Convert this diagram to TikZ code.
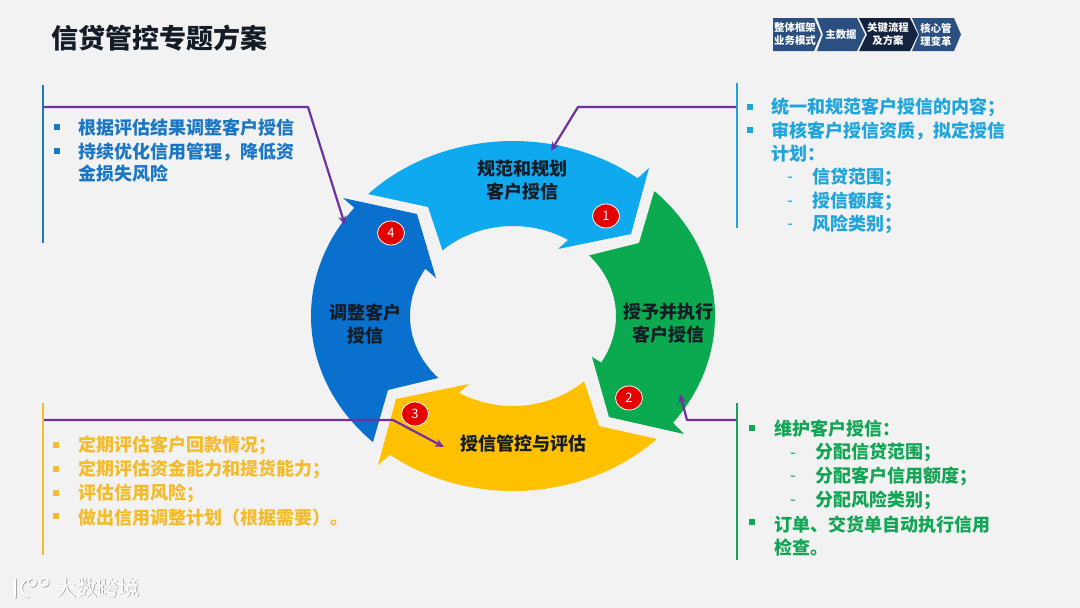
\documentclass[tikz,border=0pt]{standalone}
\usepackage{fontspec}
\setmainfont{Noto Sans CJK SC}
\usetikzlibrary{arrows.meta,shapes.geometric}
\definecolor{bgc}{HTML}{F2F2F2}
\definecolor{ringA}{HTML}{0EA9EE}
\definecolor{ringB}{HTML}{0BAA50}
\definecolor{ringC}{HTML}{FFC000}
\definecolor{ringD}{HTML}{0A70CE}
\definecolor{txtA}{HTML}{1FA4DC}
\definecolor{txtB}{HTML}{12A555}
\definecolor{txtC}{HTML}{F2BC2E}
\definecolor{txtD}{HTML}{1B76C4}
\definecolor{linkc}{HTML}{7030A0}
\definecolor{navA}{HTML}{2A4F80}
\definecolor{navB}{HTML}{14233F}
\definecolor{inkc}{HTML}{141C26}
\tikzset{
  declare function={ox(\t)=513+202*cos(\t);oy(\t)=316+175*sin(\t);ix(\t)=513+103*cos(\t);iy(\t)=316+90*sin(\t);},
  item/.style={anchor=west,inner sep=0pt,outer sep=0pt,align=left,yshift=-0.8pt,font=\fontsize{18}{22.5}\selectfont\bfseries},
  dashmark/.style={anchor=center,inner sep=0pt,yshift=-4pt,font=\fontsize{17}{18}\selectfont},
  bul/.style={rectangle,fill=#1,draw=none,minimum size=5.5pt,inner sep=0pt},
  vbar/.style={line width=2.8pt},
  link/.style={draw=linkc,line width=2.2pt,line join=round,-{Stealth[length=9pt,width=8pt]}},
  ringlabel/.style={inner sep=0pt,align=center,yshift=-0.8pt,text=inkc,font=\fontsize{18}{22.5}\selectfont\bfseries},
  badge/.style={ellipse,fill=red!90!black,draw=white,line width=0.8pt,minimum width=27pt,minimum height=24pt,inner sep=0pt,text=white,font=\fontsize{13}{13}\selectfont},
  navtext/.style={inner sep=0pt,align=center,text=white,font=\fontsize{10.4}{13}\selectfont\bfseries},
}
\begin{document}
\begin{tikzpicture}[x=1pt,y=-1pt]
\fill[bgc] (0,0) rectangle (1080,608);
\useasboundingbox (0,0) rectangle (1080,608);

% title
\node[anchor=west,inner sep=0pt,text=inkc,font=\fontsize{27}{30}\selectfont\bfseries] (title) at (51,38) {信贷管控专题方案};

% navigator chevrons
\fill[navA] (773,18) -- (814,18) -- (821,34.5) -- (814,51) -- (773,51) -- cycle;
\fill[navA] (817,18) -- (857,18) -- (865,34.5) -- (857,51) -- (817,51) -- (823,34.5) -- cycle;
\fill[navB] (859,18) -- (910,18) -- (918,34.5) -- (910,51) -- (859,51) -- (867,34.5) -- cycle;
\fill[navA] (912,18) -- (954,18) -- (961,34.5) -- (954,51) -- (912,51) -- (919,34.5) -- cycle;
\node[navtext] (nav1) at (795,34.5) {整体框架\\业务模式};
\node[navtext] (nav2) at (841,34.5) {主数据};
\node[navtext] (nav3) at (888,34.5) {关键流程\\及方案};
\node[navtext] (nav4) at (936,34.5) {核心管\\理变革};

% ring
\fill[ringA] (368,194) -- plot[samples=60,domain=-135.8:-51.9] ({ox(\x)},{oy(\x)}) -- (649,168) -- (631,234) -- (558,249) -- plot[samples=40,domain=-57.7:-133.2] ({ix(\x)},{iy(\x)}) -- (428,207) -- cycle;
\fill[ringB] (639,243) -- (654,192) -- plot[samples=60,domain=-45.4:37.6] ({ox(\x)},{oy(\x)}) -- (684,434) -- (609,417) -- (592,357) -- plot[samples=40,domain=31.1:-42.3] ({ix(\x)},{iy(\x)}) -- cycle;
\fill[ringC] (599,426) -- (657,439) -- plot[samples=60,domain=44.6:127.5] ({ox(\x)},{oy(\x)}) -- (378,465) -- (396,399) -- (469,384) -- plot[samples=40,domain=121.5:46.4] ({ix(\x)},{iy(\x)}) -- cycle;
\fill[ringD] (388,390) -- (373,442) -- plot[samples=60,domain=133.9:218.2] ({ox(\x)},{oy(\x)}) -- (343,198) -- (417,214) -- (436,278) -- plot[samples=40,domain=211.7:136.5] ({ix(\x)},{iy(\x)}) -- cycle;

\node[ringlabel] (ringAl) at (522,179.5) {规范和规划\\客户授信};
\node[ringlabel] (ringBl) at (668,322.5) {授予并执行\\客户授信};
\node[ringlabel] (ringCl) at (523,443) {授信管控与评估};
\node[ringlabel] (ringDl) at (365.5,323.5) {调整客户\\授信};

\node[badge] (b1) at (606,216) {1};
\node[badge] (b2) at (629,398) {2};
\node[badge] (b3) at (415,414) {3};
\node[badge] (b4) at (391,233) {4};

% side bars
\coordinate (tlTop) at (43,85);    \coordinate (tlBot) at (43,243);
\coordinate (trTop) at (737,83);   \coordinate (trBot) at (737,228);
\coordinate (blTop) at (43,403);   \coordinate (blBot) at (43,555);
\coordinate (brTop) at (737,403);  \coordinate (brBot) at (737,560);
\draw[vbar,draw=txtD] (tlTop) -- (tlBot);
\draw[vbar,draw=txtA] (trTop) -- (trBot);
\draw[vbar,draw=txtC] (blTop) -- (blBot);
\draw[vbar,draw=txtB] (brTop) -- (brBot);

% connectors
\coordinate (tlA) at (44,107);  \coordinate (tlB) at (308,107); \coordinate (tlC) at (345,225);
\coordinate (trA) at (736,107); \coordinate (trB) at (578,107); \coordinate (trC) at (551,151);
\coordinate (blA) at (44,420);  \coordinate (blB) at (393,420); \coordinate (blC) at (444,447);
\coordinate (brA) at (736,420); \coordinate (brB) at (687,420); \coordinate (brC) at (680,394);
\draw[link] (tlA) -- (tlB) -- (tlC);
\draw[link] (trA) -- (trB) -- (trC);
\draw[link] (blA) -- (blB) -- (blC);
\draw[link] (brA) -- (brB) -- (brC);

% top-left text
\node[bul=txtD] (tl1b) at (57,127) {};
\node[bul=txtD] (tl2b) at (57,151) {};
\node[item,text=txtD] (tl1) at (78,127) {根据评估结果调整客户授信};
\node[item,text=txtD] (tl2) at (78,162) {持续优化信用管理，降低资\\金损失风险};

% top-right text
\node[bul=txtA] (tr1b) at (750,107) {};
\node[bul=txtA] (tr2b) at (750,130) {};
\node[item,text=txtA] (tr1) at (771,107) {统一和规范客户授信的内容；};
\node[item,text=txtA] (tr2) at (771,141.5) {审核客户授信资质，拟定授信\\计划：};
\node[dashmark,text=txtA] (tr3d) at (790,176) {-};
\node[dashmark,text=txtA] (tr4d) at (790,200) {-};
\node[dashmark,text=txtA] (tr5d) at (790,223) {-};
\node[item,text=txtA] (tr3) at (812,177) {信贷范围；};
\node[item,text=txtA] (tr4) at (812,200.5) {授信额度；};
\node[item,text=txtA] (tr5) at (812,224) {风险类别；};

% bottom-left text
\node[bul=txtC] (bl1b) at (56,445) {};
\node[bul=txtC] (bl2b) at (56,469) {};
\node[bul=txtC] (bl3b) at (56,493) {};
\node[bul=txtC] (bl4b) at (56,516) {};
\node[item,text=txtC] (bl1) at (78,445) {定期评估客户回款情况；};
\node[item,text=txtC] (bl2) at (78,469) {定期评估资金能力和提货能力；};
\node[item,text=txtC] (bl3) at (78,493) {评估信用风险；};
\node[item,text=txtC] (bl4) at (78,517) {做出信用调整计划（根据需要）。};

% bottom-right text
\node[bul=txtB] (br1b) at (752,428) {};
\node[bul=txtB] (br2b) at (752,522) {};
\node[item,text=txtB] (br1) at (774,428) {维护客户授信：};
\node[dashmark,text=txtB] (br3d) at (793,452) {-};
\node[dashmark,text=txtB] (br4d) at (793,475) {-};
\node[dashmark,text=txtB] (br5d) at (793,499) {-};
\node[item,text=txtB] (br3) at (815,452) {分配信贷范围；};
\node[item,text=txtB] (br4) at (815,476) {分配客户信用额度；};
\node[item,text=txtB] (br5) at (815,500) {分配风险类别；};
\node[item,text=txtB] (br2) at (774,535) {订单、交货单自动执行信用\\检查。};

% watermark
\begin{scope}[line width=1.8pt,line cap=round]
\foreach \dx/\dy/\col in {0.8/0.8/gray!70,0/0/white}{
  \begin{scope}[shift={(\dx,\dy)}]
    \draw[\col] (15,579) -- (15,597);
    \draw[\col] (28,579) .. controls (19,583) and (19,593) .. (28,597);
    \draw[\col] (32,582) circle[radius=4];
    \draw[\col] (44,582) circle[radius=4];
  \end{scope}
}
\end{scope}
\node[inner sep=0pt,text=gray!70,font=\fontsize{21}{24}\selectfont] (wmShadow) at (98.8,588.8) {大数跨境};
\node[inner sep=0pt,text=white,font=\fontsize{21}{24}\selectfont] (wm) at (98,588) {大数跨境};
\end{tikzpicture}
\end{document}
